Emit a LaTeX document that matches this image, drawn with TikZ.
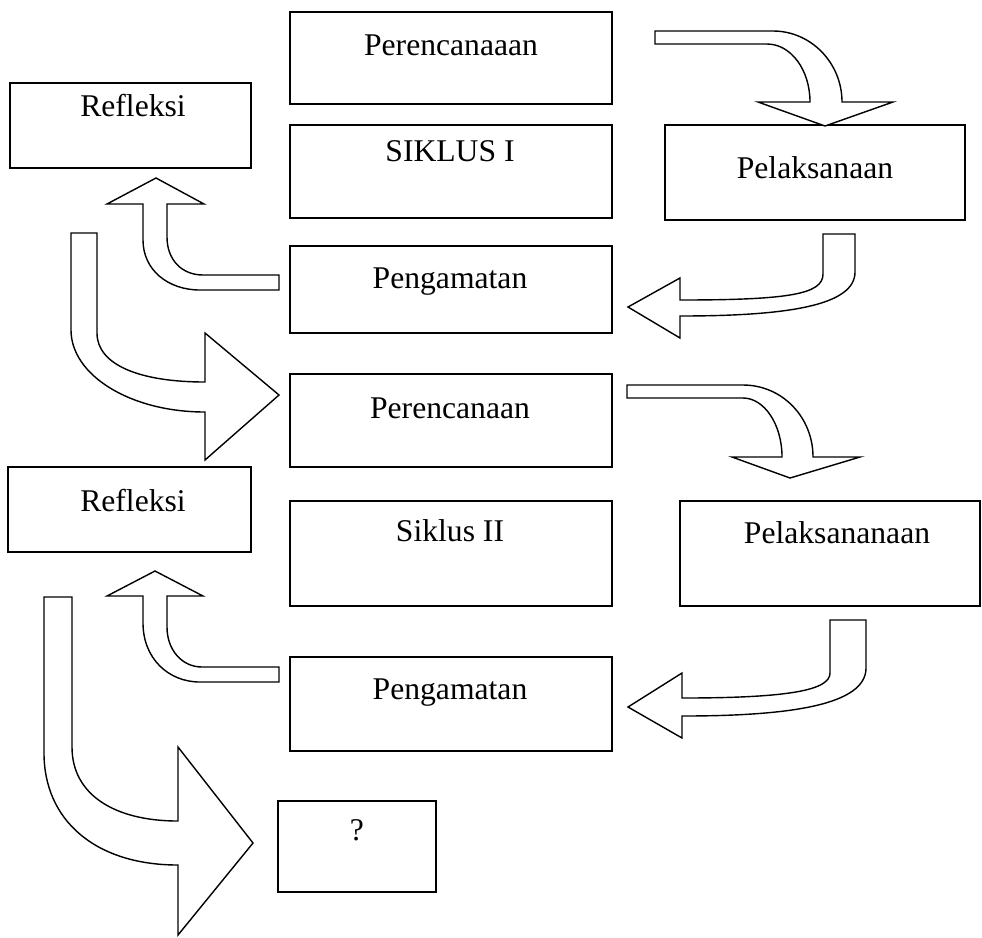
\documentclass[tikz,border=0pt]{standalone}
\usepackage{fontspec}
\setmainfont{Liberation Serif}
\usetikzlibrary{fit}
\begin{document}
\begin{tikzpicture}[x=0.02cm,y=-0.02cm,
  box/.style={draw=black,line width=1.1pt,fill=white,inner sep=0pt},
  lbl/.style={anchor=base,inner sep=0pt,font=\fontsize{18}{22}\selectfont},
  barrow/.style={draw=black,fill=white,line width=0.8pt,line join=miter}]
\useasboundingbox[fill=white] (0,0) rectangle (982,937);
% boxes
\node[box,fit={(290,12) (612,104)}] (b1) {};
\node[box,fit={(10,83) (251,168)}] (b2) {};
\node[box,fit={(290,125) (612,218)}] (b3) {};
\node[box,fit={(665,125) (965,220)}] (b4) {};
\node[box,fit={(290,246) (612,333)}] (b5) {};
\node[box,fit={(290,374) (612,467)}] (b6) {};
\node[box,fit={(8,467) (251,552)}] (b7) {};
\node[box,fit={(290,501) (612,606)}] (b8) {};
\node[box,fit={(680,501) (980,606)}] (b9) {};
\node[box,fit={(290,657) (612,751)}] (b10) {};
\node[box,fit={(278,801) (436,892)}] (b11) {};
% labels
\node[lbl] (t1) at (451,55) {Perencanaaan};
\node[lbl] (t2) at (133,116) {Refleksi};
\node[lbl] (t3) at (450,161) {SIKLUS I};
\node[lbl] (t4) at (815,178) {Pelaksanaan};
\node[lbl] (t5) at (450,288) {Pengamatan};
\node[lbl] (t6) at (450,418) {Perencanaan};
\node[lbl] (t7) at (133,511) {Refleksi};
\node[lbl] (t8) at (450,541) {Siklus II};
\node[lbl] (t9) at (837,543) {Pelaksananaan};
\node[lbl] (t10) at (450,699) {Pengamatan};
\node[lbl] (t11) at (357,840) {?};
% arrow 1: Perencanaaan -> Pelaksanaan
\draw[barrow] (655,31) -- (773,31) .. controls (811,31) and (842,63) .. (842,102)
  -- (893,102) -- (825,126) -- (758,102) -- (810,102)
  .. controls (810,70) and (791,44) .. (767,44) -- (655,44) -- cycle;
% arrow 2: Pelaksanaan -> Pengamatan
\draw[barrow] (855,234) -- (855,272) .. controls (855,305) and (790,316) .. (680,316)
  -- (680,338) -- (628,307) -- (680,278) -- (680,300)
  .. controls (790,300) and (823,294) .. (823,274) -- (823,234) -- cycle;
% arrow 3: Pengamatan -> Refleksi
\draw[barrow] (279,275) -- (203,275) .. controls (182,275) and (167,260) .. (167,237)
  -- (167,204) -- (204,204) -- (156,178) -- (107,204) -- (143,204) -- (143,240)
  .. controls (143,270) and (168,290) .. (200,290) -- (279,290) -- cycle;
% arrow 4: Refleksi -> Perencanaan
\draw[barrow] (71,233) -- (97,233) -- (97,333) .. controls (97,365) and (140,382) .. (205,382)
  -- (205,333) -- (279,395) -- (205,460) -- (205,412)
  .. controls (130,412) and (71,375) .. (71,330) -- cycle;
% arrow 5: Perencanaan -> Pelaksananaan
\draw[barrow] (627,385) -- (743,385) .. controls (782,385) and (813,417) .. (813,457)
  -- (860,457) -- (790,478) -- (732,457) -- (782,457)
  .. controls (782,424) and (764,398) .. (743,398) -- (627,398) -- cycle;
% arrow 6: Pengamatan -> Refleksi
\draw[barrow] (279,667) -- (202,667) .. controls (182,667) and (167,650) .. (167,627)
  -- (167,596) -- (203,596) -- (155,571) -- (107,596) -- (143,596) -- (143,623)
  .. controls (143,658) and (168,682) .. (200,682) -- (279,682) -- cycle;
% arrow 7: Refleksi -> ?
\draw[barrow] (44,597) -- (72,597) -- (72,747) .. controls (72,795) and (115,821) .. (178,821)
  -- (178,747) -- (253,843) -- (178,935) -- (178,865)
  .. controls (95,865) and (44,820) .. (44,753) -- cycle;
% arrow 8: Pelaksananaan -> Pengamatan
\draw[barrow] (866,620) -- (866,668) .. controls (866,705) and (790,716) .. (682,716)
  -- (682,738) -- (628,707) -- (682,673) -- (682,698)
  .. controls (790,698) and (830,690) .. (830,673) -- (830,620) -- cycle;
\end{tikzpicture}
\end{document}
